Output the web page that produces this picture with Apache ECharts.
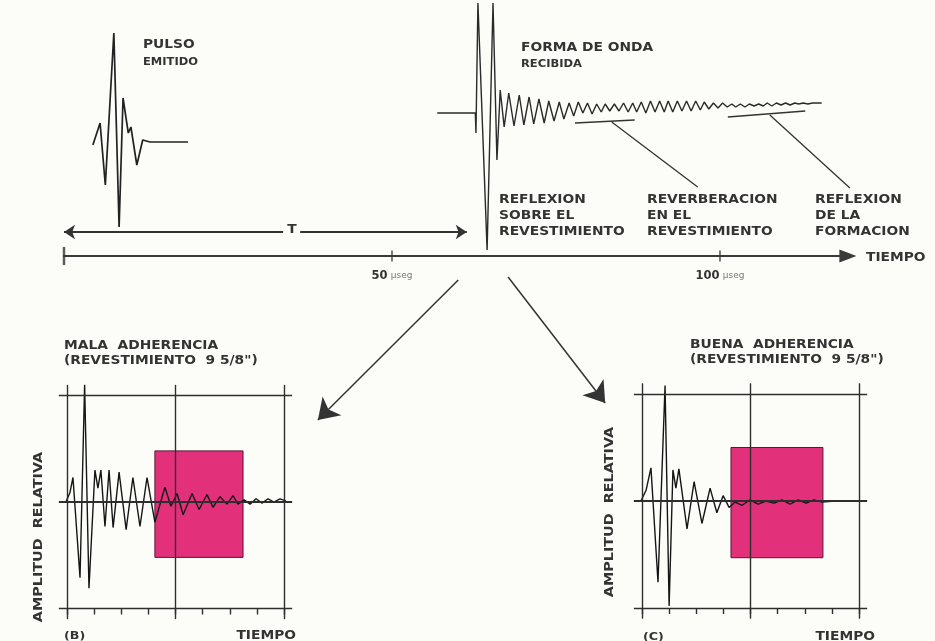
<!DOCTYPE html>
<html><head><meta charset="utf-8">
<script src="https://cdn.jsdelivr.net/npm/echarts@6/dist/echarts.min.js"></script>
<style>html,body{margin:0;padding:0;background:#fcfcf8}#c{width:935px;height:641px}</style>
</head><body><div id="c"></div>
<script>
// ---------- DATA ----------
// Top figure: time in microseconds, amplitude in relative units
const timeTicks = [0, 50, 100];
const pulseTime = [4.4, 5.5, 6.3, 7.6, 8.4, 9.0, 9.8, 10.2, 11.1, 12.0, 13.1, 18.9];
const pulseAmp  = [-4, 18, -44, 108, -86, 43, 8, 14, -24, 1, -1, -1];

const receivedTime = [56.9, 62.7, 62.8, 63.1, 64.5, 65.4, 66.0, 66.5,
  67.1, 67.8, 68.6, 69.4, 70.1, 70.9, 71.6, 72.4, 73.2, 73.9, 74.7, 75.5, 76.2, 77.0, 77.7,
  78.4, 79.1, 79.8, 80.5, 81.2, 81.9, 82.5, 83.2, 83.9, 84.6,
  85.3, 86.0, 86.7, 87.3, 88.0, 88.7, 89.4, 90.1, 90.8, 91.5,
  92.1, 92.8, 93.5, 94.2, 94.9, 95.6, 96.3, 97.0, 97.6, 98.3,
  99.0, 99.7, 100.4, 101.1, 101.8, 102.4, 103.1, 103.8, 104.5, 105.2,
  105.9, 106.6, 107.2, 107.9, 108.6, 109.3, 110.0, 110.7, 111.4, 112.0,
  112.7, 113.4, 114.1, 114.8, 115.5];
const receivedAmp = [0, 0, -20, 110, -137, 110, -47, 23,
  -14, 20, -13, 18, -12, 16, -11, 14, -10, 12, -8, 11, -6, 10, -3,
  11, 0, 10, -1, 9, 1, 9, 2, 9, 2,
  10, 1, 10, 1, 11, 0, 12, 1, 12, 1,
  12, 1, 12, 2, 12, 2, 12, 3, 11, 4,
  10, 5, 10, 6, 9, 6, 9, 6, 9, 7,
  9, 7, 10, 7, 10, 8, 10, 8, 10, 9,
  10, 9, 10, 10, 10];

// Annotation leader lines (time, level) for the received waveform
const leaderLines = [
  [[77.9, 133], [87.0, 136]],
  [[83.5, 134], [96.6, 69]],
  [[101.2, 139], [113.0, 145]],
  [[107.6, 141], [119.8, 68]]
];
const periodArrow = [[[0, 24], [33.4, 24]], [[36.0, 24], [61.4, 24]]];
const bigArrows = [[[60.1, -24], [38.7, -164]], [[67.7, -21], [82.5, -147]]];

// Bottom panels: time in divisions (0..8), relative amplitude (-1..1)
const panelVerticals = [0, 4, 8];
const panelHorizontals = [-1, 0, 1];
const waveBTime = [-0.04, 0.11, 0.22, 0.48, 0.65, 0.81, 1.03, 1.14, 1.25, 1.40,
  1.55, 1.70, 1.92, 2.18, 2.43, 2.69, 2.95, 3.24, 3.61, 3.83,
  4.06, 4.28, 4.61, 4.87, 5.16, 5.38, 5.64, 5.90, 6.12, 6.30,
  6.53, 6.75, 6.97, 7.19, 7.41, 7.63, 7.85, 8.07];
const waveBAmp = [0, 0.09, 0.23, -0.71, 1.10, -0.81, 0.30, 0.13, 0.30, -0.23,
  0.30, -0.24, 0.28, -0.26, 0.23, -0.23, 0.23, -0.19, 0.14, -0.04,
  0.08, -0.12, 0.08, -0.07, 0.07, -0.05, 0.05, -0.02, 0.06, -0.02,
  0.02, -0.02, 0.03, -0.01, 0.03, 0.0, 0.03, 0.01];
const rectB = [3.24, 0.48, 6.49, -0.52];

const waveCTime = [-0.04, 0.15, 0.33, 0.59, 0.85, 1.00, 1.14, 1.25, 1.36, 1.66,
  1.92, 2.21, 2.51, 2.76, 2.99, 3.21, 3.43, 3.69, 3.98, 4.28,
  4.57, 4.87, 5.16, 5.46, 5.75, 6.05, 6.34, 6.64, 7.12, 7.96];
const waveCAmp = [0, 0.10, 0.31, -0.76, 1.08, -0.98, 0.29, 0.12, 0.30, -0.26,
  0.18, -0.21, 0.12, -0.11, 0.05, -0.06, -0.01, -0.04, 0.01, -0.03,
  0.0, -0.02, 0.01, -0.03, 0.01, -0.02, 0.01, -0.01, 0, 0];
const rectC = [3.28, 0.50, 6.67, -0.53];

// ---------- LAYOUT / STYLE ----------
const PULSE_BASE = 115, RECEIVED_BASE = 143;
const INK = '#2e2e2e', PINK = '#e2307a';
const FONT = '"DejaVu Sans", sans-serif';

const zip = (a, b, off) => a.map((t, i) => [t, b[i] + (off || 0)]);

function panelSeries(fx, gx, times, amps, rect) {
  return [
    { type: 'line', xAxisIndex: fx, yAxisIndex: fx, data: [], z: 1, silent: true,
      markLine: { silent: true, symbol: 'none', label: { show: false },
        lineStyle: { color: INK, width: 1.4, type: 'solid' },
        data: panelVerticals.map(v => ({ xAxis: v })) } },
    { type: 'line', xAxisIndex: fx, yAxisIndex: fx, data: [], z: 2, silent: true,
      markArea: { silent: true, itemStyle: { color: PINK, borderColor: '#5a1830', borderWidth: 1 },
        data: [[{ coord: [rect[0], rect[1]] }, { coord: [rect[2], rect[3]] }]] } },
    { type: 'line', xAxisIndex: fx, yAxisIndex: fx, data: [], z: 3, silent: true,
      markLine: { silent: true, symbol: 'none', label: { show: false },
        data: panelHorizontals.map(v => ({ yAxis: v, lineStyle: { color: INK, width: v === 0 ? 2 : 1.3, type: 'solid' } })) } },
    { type: 'line', xAxisIndex: fx, yAxisIndex: fx, data: zip(times, amps), z: 4,
      showSymbol: false, clip: false, lineStyle: { color: '#151515', width: 1.4 } },
    { type: 'line', xAxisIndex: gx, yAxisIndex: gx, data: [], z: 1 }
  ];
}

function txt(text, x, y, size, opts) {
  opts = opts || {};
  return { type: 'text', x: x, y: y, scaleX: opts.sx || 1.15, rotation: opts.rot || 0,
    style: { text: text, fill: opts.color || '#333', font: (opts.weight || 'bold') + ' ' + size + 'px ' + FONT,
      align: opts.align || 'left', textAlign: opts.align || 'left',
      verticalAlign: 'middle', textVerticalAlign: 'middle', lineHeight: opts.lh || 16 }, z: 100 };
}

const hiddenX = (gi, min, max) => ({ type: 'value', gridIndex: gi, min: min, max: max, show: false });
const tickX = (gi) => ({ type: 'value', gridIndex: gi, min: 0, max: 8, interval: 1, position: 'bottom',
  axisLine: { show: false, onZero: false }, axisTick: { show: true, length: 6, lineStyle: { color: INK, width: 1.4 } },
  axisLabel: { show: false }, splitLine: { show: false } });

const option = {
  backgroundColor: '#fcfcf8',
  animation: false,
  grid: [
    { left: 64, top: 0, width: 783.9, height: 256 },
    { left: 58.86, top: 384.85, width: 233.28, height: 234.3 },
    { left: 67, top: 395.5, width: 217, height: 213 },
    { left: 633.86, top: 383.3, width: 233.28, height: 235.4 },
    { left: 642, top: 394, width: 217, height: 214 }
  ],
  xAxis: [
    { type: 'value', gridIndex: 0, min: 0, max: 119.5, interval: 50,
      axisLine: { show: true, symbol: ['none', 'triangle'], symbolSize: [13, 17], lineStyle: { color: '#3a3a3a', width: 2 } },
      axisTick: { show: false }, splitLine: { show: false },
      axisLabel: { margin: 14, showMinLabel: false, showMaxLabel: false,
        formatter: v => (v === 50 || v === 100) ? '{a|' + v + '} {b|µseg}' : '',
        rich: { a: { fontFamily: FONT, fontWeight: 'bold', fontSize: 11.5, color: '#333' },
                b: { fontFamily: FONT, fontSize: 9, color: '#777' } } } },
    hiddenX(1, -0.3, 8.3), tickX(2), hiddenX(3, -0.3, 8.3), tickX(4)
  ],
  yAxis: [
    { type: 'value', gridIndex: 0, min: 0, max: 256, show: false },
    { type: 'value', gridIndex: 1, min: -1.1, max: 1.1, show: false },
    { type: 'value', gridIndex: 2, min: -1, max: 1, show: false },
    { type: 'value', gridIndex: 3, min: -1.1, max: 1.1, show: false },
    { type: 'value', gridIndex: 4, min: -1, max: 1, show: false }
  ],
  series: [
    { type: 'line', xAxisIndex: 0, yAxisIndex: 0, data: zip(pulseTime, pulseAmp, PULSE_BASE),
      showSymbol: false, clip: false, lineStyle: { color: '#222', width: 1.7 } },
    { type: 'line', xAxisIndex: 0, yAxisIndex: 0, data: zip(receivedTime, receivedAmp, RECEIVED_BASE),
      showSymbol: false, clip: false, lineStyle: { color: '#2a2a2a', width: 1.4 } },
    { type: 'scatter', xAxisIndex: 0, yAxisIndex: 0, data: timeTicks.map(t => [t, 0]), symbol: 'rect',
      symbolSize: (v, p) => p.dataIndex === 0 ? [2.5, 18] : [1.6, 11], itemStyle: { color: '#333' }, silent: true },
    { type: 'lines', coordinateSystem: 'cartesian2d', xAxisIndex: 0, yAxisIndex: 0, clip: false, silent: true,
      symbol: ['none', 'none'], lineStyle: { color: '#333', width: 1.3, opacity: 1 },
      data: leaderLines.map(c => ({ coords: c })) },
    { type: 'lines', coordinateSystem: 'cartesian2d', xAxisIndex: 0, yAxisIndex: 0, clip: false, silent: true,
      lineStyle: { color: '#333', width: 2, opacity: 1 },
      data: [
        { coords: periodArrow[0], symbol: ['arrow', 'none'], symbolSize: 11 },
        { coords: periodArrow[1], symbol: ['none', 'arrow'], symbolSize: 11 }
      ] },
    { type: 'lines', coordinateSystem: 'cartesian2d', xAxisIndex: 0, yAxisIndex: 0, clip: false, silent: true,
      symbol: ['none', 'arrow'], symbolSize: 20, lineStyle: { color: '#333', width: 1.5, opacity: 1 },
      data: bigArrows.map(c => ({ coords: c })) },
    ...panelSeries(1, 2, waveBTime, waveBAmp, rectB),
    ...panelSeries(3, 4, waveCTime, waveCAmp, rectC)
  ],
  graphic: [
    txt('PULSO', 143, 45, 12),
    txt('EMITIDO', 143, 62, 10),
    txt('FORMA DE ONDA', 521, 48, 12),
    txt('RECIBIDA', 521, 64, 10),
    txt('REFLEXION\nSOBRE EL\nREVESTIMIENTO', 499, 216, 12),
    txt('REVERBERACION\nEN EL\nREVESTIMIENTO', 647, 216, 12),
    txt('REFLEXION\nDE LA\nFORMACION', 815, 216, 12),
    txt('TIEMPO', 866, 258, 12),
    txt('T', 292, 230, 12, { align: 'center' }),
    txt('MALA  ADHERENCIA', 64, 346, 12),
    txt('(REVESTIMIENTO  9 5/8")', 64, 361, 12),
    txt('BUENA  ADHERENCIA', 690, 345, 12),
    txt('(REVESTIMIENTO  9 5/8")', 690, 360, 12),
    txt('AMPLITUD  RELATIVA', 39, 537, 12.5, { align: 'center', rot: Math.PI / 2 }),
    txt('AMPLITUD  RELATIVA', 610, 512, 12.5, { align: 'center', rot: Math.PI / 2 }),
    txt('(B)', 64, 636, 11),
    txt('TIEMPO', 296, 636, 12, { align: 'right' }),
    txt('(C)', 643, 637, 11),
    txt('TIEMPO', 875, 637, 12, { align: 'right' })
  ]
};

const chart = echarts.init(document.getElementById('c'));
chart.setOption(option);
</script></body></html>
